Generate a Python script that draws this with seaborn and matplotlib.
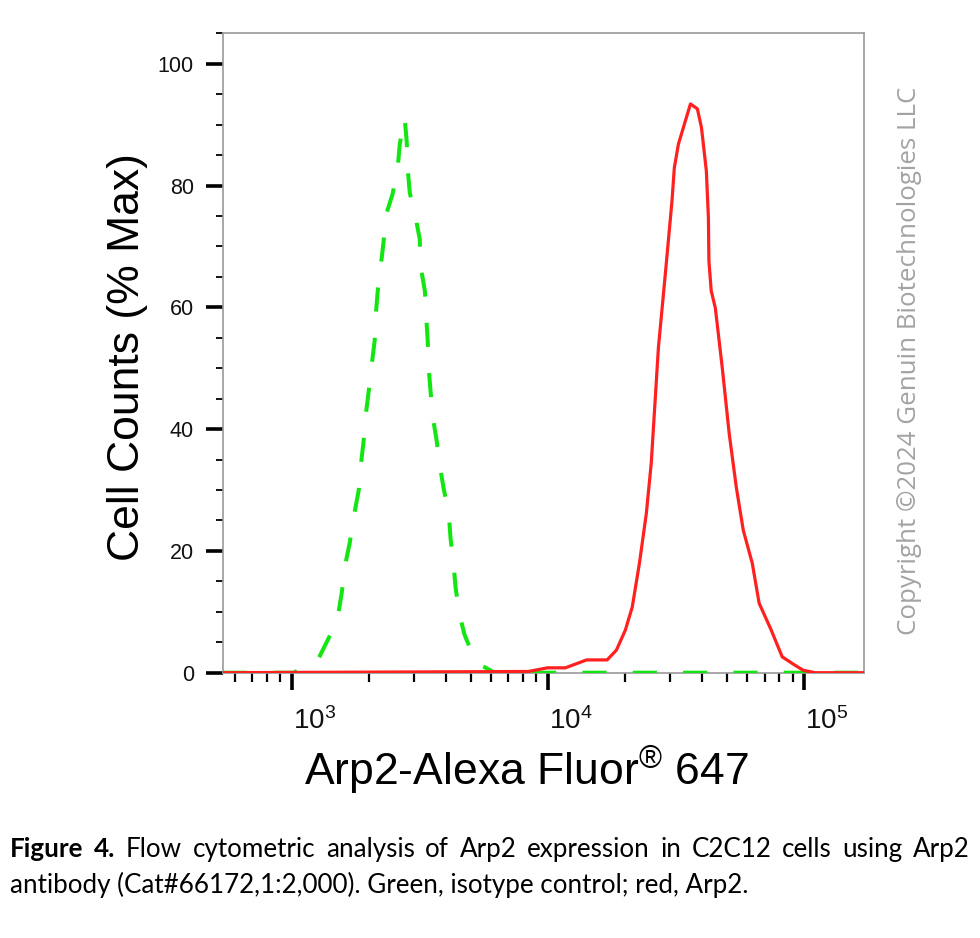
import numpy as np
import pandas as pd
import seaborn as sns
import matplotlib.pyplot as plt
from matplotlib import ticker
from matplotlib import transforms as mtransforms

# isotype control (green, dashed) - fluorescence intensity vs % max
green_x = [540, 1021, 1276, 1396, 1514, 1570, 1611, 1687, 1746, 1828, 1862, 1910,
           1945, 2000, 2051, 2109, 2128, 2168, 2228, 2286, 2328, 2477, 2594, 2642,
           2761, 2812, 2838, 2891, 3048, 3162, 3184, 3311, 3350, 3396, 3420, 3483,
           3548, 3681, 3776, 3917, 4102, 4169, 4285, 4365, 4519, 4732, 5129, 5500,
           6194, 171000]
green_y = [0, 0, 2.4, 5.7, 9.1, 13.2, 17.3, 21.4, 25.5, 30.0, 34.0, 38.1,
           42.2, 46.3, 50.4, 54.5, 58.6, 62.7, 66.8, 70.9, 75.0, 78.6, 82.9, 86.8,
           91.1, 87.3, 82.7, 78.8, 74.7, 71.2, 66.8, 62.7, 58.6, 54.5, 50.4, 46.3,
           42.2, 38.1, 34.3, 30.3, 26.2, 22.1, 17.7, 13.9, 9.5, 6.2, 2.6, 1.2,
           0, 0]

# Arp2 (red, solid)
red_x = [540, 8395, 9954, 11695, 14158, 17022, 18493, 20045, 21330, 22751, 24210,
         25293, 26977, 28708, 30479, 31117, 32285, 34356, 35975, 38282, 39719,
         41495, 42267, 42462, 43351, 44978, 47863, 50933, 54325, 57810, 62661,
         66681, 74302, 82035, 91411, 99083, 110154, 171000]
red_y = [0, 0.2, 0.8, 0.8, 2.1, 2.1, 3.7, 7.0, 10.8, 18.0, 26.2,
         34.4, 53.4, 65.5, 77.5, 82.9, 86.8, 90.6, 93.4, 92.6, 89.5,
         82.4, 74.7, 67.6, 62.7, 59.9, 50.1, 39.3, 30.4, 23.4, 18.0,
         11.4, 7.0, 2.6, 1.3, 0.4, 0, 0]

y_ticks = [0, 20, 40, 60, 80, 100]
x_ticks = [1e3, 1e4, 1e5]

x_label = r'Arp2-Alexa Fluor$^{\circledR}$ 647'
y_label = 'Cell Counts (% Max)'
copyright_text = 'Copyright \u00a92024 Genuin Biotechnologies LLC'
caption_bold = 'Figure 4.'
caption_line1 = 'Flow cytometric analysis of Arp2 expression in C2C12 cells using Arp2'
caption_line2 = 'antibody (Cat#66172,1:2,000). Green, isotype control; red, Arp2.'

sns.set_theme(style='white')
plt.rcParams['font.family'] = ['Liberation Sans', 'DejaVu Sans']
plt.rcParams['mathtext.fontset'] = 'custom'
plt.rcParams['mathtext.rm'] = 'Liberation Sans'
plt.rcParams['mathtext.it'] = 'Liberation Sans:italic'
plt.rcParams['mathtext.bf'] = 'Liberation Sans:bold'

W, H = 980, 938
fig = plt.figure(figsize=(W / 100, H / 100), dpi=100)
fig.patch.set_facecolor('white')
ax = fig.add_axes([223 / W, 1 - 672.7 / H, 641 / W, 639.4 / H])

green = pd.DataFrame({'intensity': green_x, 'pct': green_y})
red = pd.DataFrame({'intensity': red_x, 'pct': red_y})

sns.lineplot(data=green, x='intensity', y='pct', ax=ax, color='#14e614', lw=2.9,
             linestyle=(0, (6, 6.5)), estimator=None, sort=False, zorder=3)
sns.lineplot(data=red, x='intensity', y='pct', ax=ax, color='#ff2020', lw=2.3,
             estimator=None, sort=False, zorder=4)

ax.set_xscale('log')
ax.set_xlim(540, 171000)
ax.set_ylim(0, 105)

for sp in ax.spines.values():
    sp.set_color('#9a9a9a')
    sp.set_linewidth(1.2)
    sp.set_zorder(1)

ax.set_yticks(y_ticks)
ax.yaxis.set_minor_locator(ticker.MultipleLocator(5))
ax.set_xticks(x_ticks)
ax.xaxis.set_major_formatter(ticker.LogFormatterSciNotation())
ax.xaxis.set_minor_locator(ticker.LogLocator(base=10, subs=np.arange(2, 10), numticks=20))
ax.xaxis.set_minor_formatter(ticker.NullFormatter())

ax.tick_params(which='both', bottom=True, left=True, top=False, right=False,
               direction='out', color='black')
ax.tick_params(axis='y', which='major', length=12, width=2.6, pad=9, labelsize=15.5,
               labelcolor='#111111')
ax.tick_params(axis='y', which='minor', length=5, width=1.3)
ax.tick_params(axis='x', which='major', length=12.5, width=2.6, pad=12, labelsize=20,
               labelcolor='#111111')
ax.tick_params(axis='x', which='minor', length=6.5, width=1.6)

shift = mtransforms.ScaledTranslation(1 / 100, 0, fig.dpi_scale_trans)
for lab in ax.get_xticklabels():
    lab.set_horizontalalignment('left')
    lab.set_transform(lab.get_transform() + shift)

ax.set_xlabel(x_label, fontsize=32, color='black')
ax.xaxis.set_label_coords(0.4727, -0.1115)
ax.set_ylabel(y_label, fontsize=32, color='black')
ax.yaxis.set_label_coords(-0.117, 0.494)

fig.text(909 / W, 1 - 361 / H, copyright_text, rotation=90, ha='center', va='center',
         color='#a3a3a3', family='Open Sans', fontsize=18.6)

# caption, line 1 justified, line 2 left aligned
cap_font = 'Lato'
pix = mtransforms.IdentityTransform()
renderer = fig.canvas.get_renderer()

probe = fig.text(0, 0, caption_line2, fontsize=16, family=cap_font, transform=pix)
cap_size = 16 * 742 / probe.get_window_extent(renderer).width
probe.remove()

words = [(w, 'bold') for w in caption_bold.split()] + \
        [(w, 'normal') for w in caption_line1.split()]
items = []
for w, weight in words:
    t = fig.text(0, H - 857, w, fontsize=cap_size, fontweight=weight,
                 family=cap_font, transform=pix, color='black')
    items.append(t)
widths = [t.get_window_extent(renderer).width for t in items]
gap = (960 - sum(widths)) / (len(items) - 1)
xpos = 10
for t, wd in zip(items, widths):
    t.set_x(xpos)
    xpos += wd + gap

fig.text(10, H - 893, caption_line2, fontsize=cap_size, family=cap_font,
         transform=pix, color='black')

fig.savefig('out.png', dpi=100)
